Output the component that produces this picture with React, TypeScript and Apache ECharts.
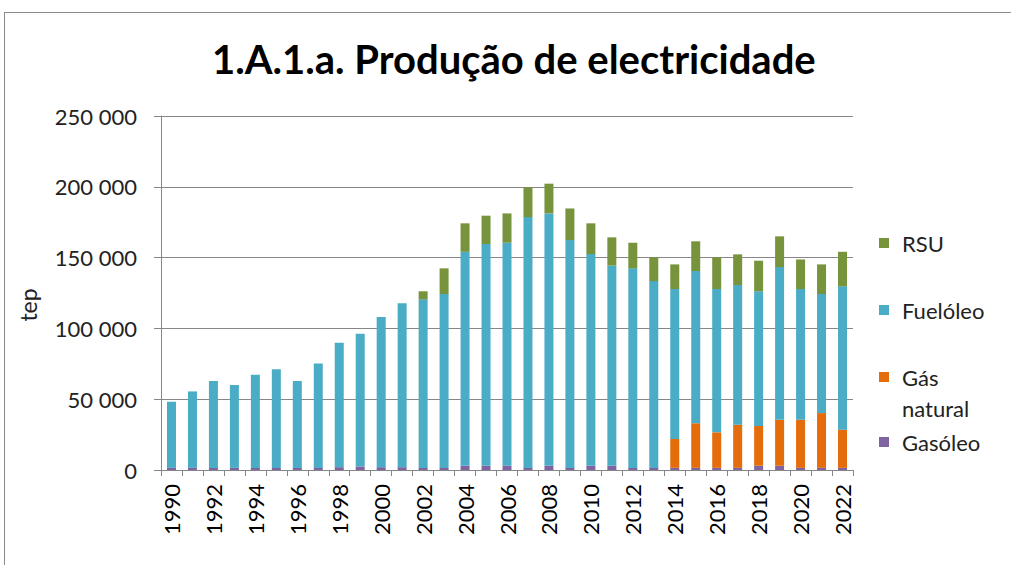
import React, { useEffect, useRef } from 'react';
import * as echarts from 'echarts';

const years = [
  '1990', '1991', '1992', '1993', '1994', '1995', '1996', '1997', '1998', '1999',
  '2000', '2001', '2002', '2003', '2004', '2005', '2006', '2007', '2008', '2009',
  '2010', '2011', '2012', '2013', '2014', '2015', '2016', '2017', '2018', '2019',
  '2020', '2021', '2022',
];

const gasoleo = [
  1500, 1500, 1500, 1500, 1500, 1500, 1500, 1500, 2000, 2500,
  2000, 2000, 1500, 1500, 3000, 3000, 3000, 1500, 3000, 1500,
  3000, 3000, 1500, 1500, 1500, 1500, 1500, 1500, 3000, 3000,
  1500, 1500, 1500,
];

const gasNatural = [
  0, 0, 0, 0, 0, 0, 0, 0, 0, 0,
  0, 0, 0, 0, 0, 0, 0, 0, 0, 0,
  0, 0, 0, 0, 20400, 31500, 25100, 30500, 28100, 32500,
  34000, 38700, 27000,
];

const fueloleo = [
  46700, 54000, 61300, 58500, 65800, 69600, 61300, 73800, 87900, 93700,
  106000, 115700, 119000, 122800, 151100, 156600, 157500, 177100, 178200, 160900,
  149500, 141300, 140900, 131900, 105900, 107500, 101200, 98600, 95100, 107800,
  92300, 84100, 101200,
];

const rsu = [
  0, 0, 0, 0, 0, 0, 0, 0, 0, 0,
  0, 0, 5700, 18100, 20100, 20000, 20700, 21000, 21000, 22300,
  21700, 20000, 18100, 16800, 17400, 21000, 22400, 21700, 21600, 21700,
  20900, 20900, 24400,
];

const FONT = 'Lato, "Open Sans", sans-serif';
const AXIS_COLOR = '#868686';

export default function App() {
  const ref = useRef<HTMLDivElement>(null);

  useEffect(() => {
    const chart = echarts.init(ref.current as HTMLDivElement, null, { renderer: 'svg' });
    const legendText = {
      fontFamily: FONT,
      fontSize: 22,
      color: '#222',
      lineHeight: 22,
      padding: [0, 0, 0, 8],
    };
    const mkLegend = (name: string, top: number, textStyle: any) => ({
      data: [name],
      left: 879,
      top,
      padding: 0,
      orient: 'vertical',
      icon: 'rect',
      itemWidth: 10,
      itemHeight: 10,
      selectedMode: false,
      textStyle,
    });
    chart.setOption({
      animation: false,
      backgroundColor: '#fff',
      title: {
        text: '1.A.1.a. Produção de electricidade',
        left: 212,
        top: 39,
        padding: 0,
        textStyle: { fontFamily: FONT, fontSize: 40, fontWeight: 'bold', color: '#000' },
      },
      legend: [
        mkLegend('RSU', 232, legendText),
        mkLegend('Fuelóleo', 299, legendText),
        {
          ...mkLegend('Gás natural', 330.5, {
            ...legendText,
            lineHeight: 31,
          }),
          formatter: () => '\nGás\nnatural',
        },
        mkLegend('Gasóleo', 431, legendText),
      ],
      grid: { left: 161, right: 158, top: 116, bottom: 95, containLabel: false },
      xAxis: {
        type: 'category',
        data: years,
        boundaryGap: true,
        axisLine: { lineStyle: { color: AXIS_COLOR, width: 1 } },
        axisTick: { show: true, interval: 0, length: 6, lineStyle: { color: AXIS_COLOR } },
        axisLabel: {
          interval: 1,
          rotate: 90,
          margin: 14,
          fontFamily: FONT,
          fontSize: 22,
          color: '#000',
        },
      },
      yAxis: {
        type: 'value',
        min: 0,
        max: 250000,
        interval: 50000,
        name: 'tep',
        nameLocation: 'middle',
        nameGap: 122,
        nameRotate: 90,
        nameTextStyle: { fontFamily: FONT, fontSize: 23, color: '#222', padding: [0, 24, 0, 0] },
        axisLine: { show: true, lineStyle: { color: AXIS_COLOR, width: 1 } },
        axisTick: { show: true, length: 7, lineStyle: { color: AXIS_COLOR } },
        splitLine: { show: true, lineStyle: { color: AXIS_COLOR, width: 1 } },
        axisLabel: {
          margin: 24,
          fontFamily: FONT,
          fontSize: 22,
          color: '#222',
          formatter: (v: number) => String(v).replace(/\B(?=(\d{3})+(?!\d))/g, ' '),
        },
      },
      graphic: [
        { type: 'line', shape: { x1: 4, y1: 12.5, x2: 1011, y2: 12.5 }, style: { stroke: '#8a8a8a', lineWidth: 1 }, silent: true },
        { type: 'line', shape: { x1: 4.5, y1: 12, x2: 4.5, y2: 565 }, style: { stroke: '#8a8a8a', lineWidth: 1 }, silent: true },
      ],
      series: [
        { name: 'Gasóleo', type: 'bar', stack: 'total', data: gasoleo, barWidth: 9, itemStyle: { color: '#8064A2' } },
        { name: 'Gás natural', type: 'bar', stack: 'total', data: gasNatural, barWidth: 9, itemStyle: { color: '#E46C0A' } },
        { name: 'Fuelóleo', type: 'bar', stack: 'total', data: fueloleo, barWidth: 9, itemStyle: { color: '#4BACC6' } },
        { name: 'RSU', type: 'bar', stack: 'total', data: rsu, barWidth: 9, itemStyle: { color: '#77933C' } },
      ],
    });
    return () => chart.dispose();
  }, []);

  return (
    <div
      ref={ref}
      style={{ position: 'absolute', left: 0, top: 0, width: 1011, height: 565, background: '#fff' }}
    />
  );
}
